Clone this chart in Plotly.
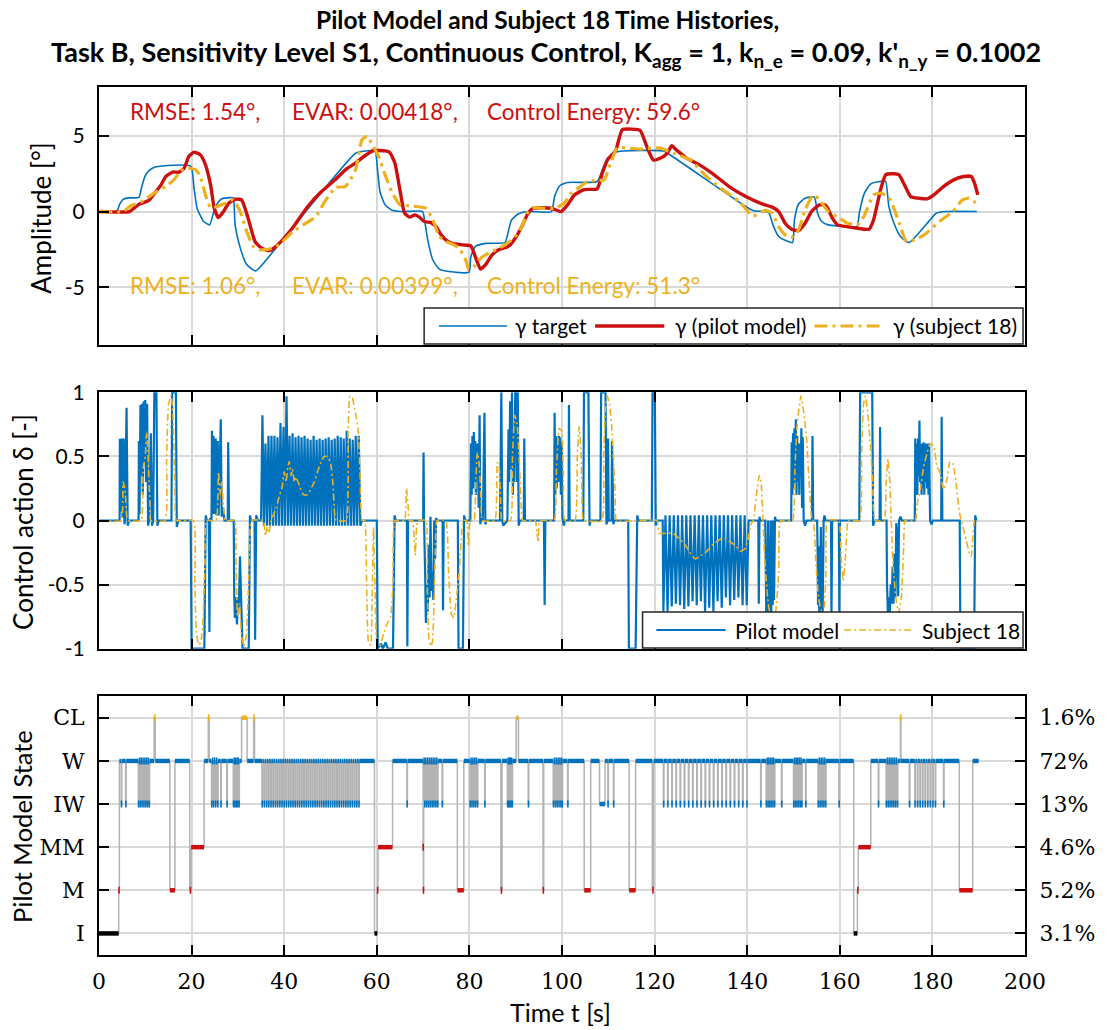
import plotly.graph_objects as go

# ---------------------------------------------------------------------------
# Flight-path angle gamma [deg] : (time s, value)
# ---------------------------------------------------------------------------
GAMMA_TARGET = [
    (0, 0), (3.8, 0), (4.5, 0.5), (5.2, 0.8), (6.3, 0.9), (8.6, 0.93), (9.2, 1.6), (9.9, 2.3),
    (10.8, 2.7), (12.3, 2.95), (19.8, 3.0), (20.5, 1.6), (21.2, 0.2), (22.6, -0.66), (23.9, -0.88),
    (24.8, 0.0), (25.6, 0.55), (26.5, 0.84), (28.3, 0.92), (29.0, 0.9), (29.4, -0.9), (30.5, -2.4),
    (31.9, -3.5), (33.8, -3.92), (35.0, -3.6), (55.4, 3.85), (57.5, 4.0), (59.6, 4.0), (60.2, 2.6),
    (60.7, 1.3), (61.8, 0.44), (63.2, 0.1), (65.3, 0.0), (69.9, 0.0), (70.3, -0.55), (71.0, -1.87),
    (72.1, -3.2), (73.5, -3.8), (75.6, -3.96), (79.9, -4.0), (80.3, -3.0), (81.3, -2.3), (83.5, -2.1),
    (87.7, -2.05), (88.1, -1.7), (89.1, -0.55), (90.6, -0.15), (92.7, 0.0), (97.7, 0.0), (98.4, 1.0),
    (99.5, 1.7), (101.2, 1.92), (107.6, 1.98), (108.7, 2.75), (109.8, 3.5), (111.2, 3.9), (113.3, 4.0),
    (121.9, 4.0), (123.3, 3.75), (139.7, 0.33), (141.4, 0.05), (143.9, 0.0), (144.7, -0.1),
    (145.7, -1.0), (146.8, -1.65), (148.2, -1.9), (149.8, -2.05), (150.2, -0.55), (151.1, 0.5),
    (152.5, 0.88), (154.5, 0.95), (155.2, -0.1), (156.1, -0.66), (157.5, -0.88), (159.6, -0.95),
    (163.7, -1.0), (164.2, -0.1), (165.3, 1.2), (166.7, 1.83), (169.2, 2.0), (169.9, 2.0),
    (170.6, 0.33), (171.7, -0.77), (173.1, -1.65), (174.9, -2.05), (177.4, -1.3), (179.5, -0.55),
    (180.9, -0.1), (183.0, 0.0), (189.6, 0.0),
]

GAMMA_PILOT = [
    (0, 0), (6.6, 0), (7.7, 0.26), (8.75, 0.5), (9.8, 0.6), (10.9, 0.77), (12.0, 1.2), (13.4, 1.76),
    (14.4, 2.3), (15.9, 2.6), (17.3, 2.6), (18.4, 2.86), (19.4, 3.63), (20.5, 3.92), (21.9, 3.74),
    (23.0, 3.08), (24.1, 1.76), (24.9, 0.22), (25.8, -0.4), (26.9, 0.0), (28.0, 0.55), (29.4, 0.81),
    (30.8, 0.77), (32.2, -0.44), (33.7, -1.98), (35.1, -2.42), (36.9, -2.58), (38.6, -2.2),
    (42.0, -1.0), (45.0, 0.3), (48.0, 1.3), (51.0, 2.1), (53.4, 2.8), (55.4, 3.2), (57.5, 3.7),
    (59.3, 4.03), (61.8, 4.0), (62.8, 3.9), (63.9, 3.2), (65.0, 1.43), (66.0, -0.1), (67.1, -0.37),
    (68.2, -0.22), (69.2, -0.37), (70.3, -0.66), (71.7, -0.73), (72.8, -1.0), (73.9, -1.54),
    (74.9, -1.87), (76.3, -2.1), (78.5, -2.2), (80.3, -2.27), (81.3, -3.0), (82.4, -3.8),
    (83.5, -3.5), (84.9, -2.86), (86.3, -2.53), (88.4, -2.3), (89.9, -1.76), (91.3, -1.0),
    (92.7, -0.1), (93.8, 0.22), (97.7, 0.22), (99.8, 0.0), (101.2, 0.44), (102.7, 1.1),
    (104.8, 1.45), (107.6, 1.5), (108.7, 2.53), (109.8, 3.4), (111.6, 4.03), (113.0, 5.4),
    (115.1, 5.44), (116.9, 5.35), (118.3, 4.3), (119.7, 3.41), (121.2, 3.52), (122.6, 3.8),
    (123.7, 4.34), (124.7, 4.07), (126.9, 3.52), (129.7, 3.08), (132.6, 2.49), (136.1, 1.65),
    (139.7, 0.99), (143.2, 0.5), (145.4, 0.29), (146.8, 0.0), (148.2, -0.77), (149.6, -1.17),
    (151.1, -1.26), (152.5, -0.77), (153.9, 0.0), (155.6, 0.44), (157.0, 0.4), (158.4, -0.44),
    (159.5, -0.88), (161.6, -1.0), (163.8, -1.1), (166.3, -1.17), (167.3, -0.55), (168.8, 1.43),
    (169.9, 2.42), (171.7, 2.49), (172.8, 2.42), (173.8, 1.87), (175.3, 0.99), (177.1, 0.88),
    (178.9, 0.84), (180.3, 1.1), (182.4, 1.65), (184.6, 2.09), (186.7, 2.31), (188.4, 2.31),
    (189.1, 1.87), (189.8, 1.1),
]

GAMMA_SUBJECT = [
    (0, 0), (5.2, 0), (7.0, 0.4), (9.1, 0.62), (10.9, 1.0), (12.7, 1.37), (14.4, 1.65), (16.2, 2.1),
    (17.7, 2.7), (19.1, 2.86), (20.9, 2.75), (21.9, 2.3), (23.0, 1.1), (24.1, 0.26), (25.5, 0.33),
    (27.3, 0.55), (29.0, 0.77), (30.5, 0.0), (31.9, -1.32), (33.3, -2.3), (34.7, -2.53),
    (36.9, -2.47), (39.0, -2.16), (41.9, -1.32), (44.7, -0.77), (46.8, -0.33), (49.0, 0.77),
    (51.1, 1.59), (53.2, 1.65), (55.4, 2.75), (56.8, 4.74), (57.9, 4.96), (58.9, 4.5), (60.4, 3.63),
    (61.8, 2.42), (63.2, 1.32), (65.0, 0.44), (66.4, 0.4), (68.5, 0.33), (70.6, 0.22), (72.1, -0.55),
    (73.5, -1.65), (74.9, -1.98), (76.3, -2.14), (77.8, -2.42), (79.2, -3.2), (79.9, -3.85),
    (81.0, -3.63), (82.0, -3.2), (83.5, -2.86), (84.9, -2.64), (86.3, -2.42), (87.7, -2.2),
    (89.9, -1.65), (91.3, -1.0), (92.7, 0.0), (94.1, 0.26), (96.3, 0.2), (98.4, 0.22), (100.5, 0.55),
    (101.9, 1.2), (104.0, 1.65), (105.5, 2.0), (107.6, 2.05), (109.1, 2.09), (110.5, 3.19),
    (111.9, 4.19), (114.1, 4.19), (116.9, 4.12), (121.2, 4.19), (124.1, 3.85), (127.7, 3.41),
    (131.2, 2.31), (134.8, 1.43), (138.3, 0.66), (141.2, -0.29), (143.9, 0.07), (145.4, -0.1),
    (146.8, -1.0), (148.2, -1.54), (149.6, -1.7), (151.1, -1.21), (152.5, 0.11), (154.3, 1.1),
    (155.6, 0.77), (157.5, 0.0), (159.6, -0.37), (161.7, -0.77), (163.8, -0.88), (165.2, -0.33),
    (167.3, 1.1), (169.1, 1.21), (170.9, 0.77), (172.6, -0.55), (174.4, -1.98), (176.5, -1.83),
    (178.7, -1.43), (181.5, -0.66), (184.4, 0.0), (186.5, 0.77), (187.9, 0.88), (189.0, 0.66),
    (189.8, 0.44),
]

# ---------------------------------------------------------------------------
# Control action delta [-] : (time s, value)
# ---------------------------------------------------------------------------
DELTA_PILOT = [
    (0.0, 0), (4.45, 0), (4.5, 0.63), (4.6, 0.63), (4.75, 0.07), (4.95, 0.64), (5.1, 0.02), (5.35, 0.64),
    (5.5, -0.03), (5.6, 0), (5.95, 0.88), (6.2, -0.04), (6.5, 0),
    (8.55, 0), (8.62, 0.62), (8.75, 0.05), (8.95, 0.9), (9.1, 0.35), (9.3, 0.91), (9.45, 0.2),
    (9.65, 0.93), (9.8, 0.45), (10.0, 0.94), (10.15, 0.3), (10.4, 0.91), (10.6, -0.04), (10.8, 0),
    (11.2, 0.68), (11.45, -0.04), (11.7, 0), (11.95, 1.0), (12.4, 1.0), (12.6, -0.04), (12.9, 0),
    (15.65, 0), (15.8, 1.0), (16.6, 1.0), (16.8, -0.05), (17.1, 0),
    (19.8, 0), (20.0, -1.0), (22.75, -1.0), (23.05, 0.04), (23.3, 0), (23.7, 0), (23.85, -0.87),
    (24.0, 0.02), (24.3, 0),
    (24.4, 0.7), (24.55, 0.05), (24.75, 0.66), (24.95, 0.05), (25.2, 0.64), (25.4, 0.04), (25.65, 0.62),
    (25.85, 0.04), (26.3, 0.79), (26.5, 0.03), (26.8, 0.1), (27.1, 0), (27.8, 0), (27.9, 0.61), (28.1, 0),
    (29.1, 0), (29.2, -0.58), (29.35, -0.76), (29.55, -0.6), (29.8, -0.81), (30.0, -0.6), (30.2, -0.68),
    (30.45, -0.28), (30.7, -0.74), (31.0, -1.0), (32.35, -1.0), (32.6, 0.04), (32.85, 0), (33.6, 0),
    (33.72, -0.93), (33.95, 0.04), (34.3, 0),
    (35.0, 0), (35.3, 0.82), (35.62, -0.04), (35.95, 0.6), (36.27, -0.04), (36.6, 0.66), (36.92, -0.04),
    (37.25, 0.66), (37.57, -0.04), (37.9, 0.66), (38.22, -0.04), (38.55, 0.65), (38.87, -0.04),
    (39.2, 0.76), (39.52, -0.04), (39.85, 0.73), (40.17, -0.04), (40.5, 0.97), (40.82, -0.04),
    (41.15, 0.66), (41.47, -0.04), (41.8, 0.68), (42.12, -0.04), (42.45, 0.65), (42.77, -0.04),
    (43.1, 0.66), (43.42, -0.04), (43.75, 0.65), (44.07, -0.04), (44.4, 0.66), (44.72, -0.04),
    (45.05, 0.64), (45.37, -0.04), (45.7, 0.63), (46.02, -0.04), (46.35, 0.66), (46.67, -0.04),
    (47.0, 0.63), (47.32, -0.04), (47.65, 0.64), (47.97, -0.04), (48.3, 0.63), (48.62, -0.04),
    (48.95, 0.64), (49.27, -0.04), (49.6, 0.65), (49.92, -0.04), (50.25, 0.63), (50.57, -0.04),
    (50.9, 0.64), (51.22, -0.04), (51.55, 0.66), (51.87, -0.04), (52.2, 0.65), (52.52, -0.04),
    (52.85, 0.64), (53.17, -0.04), (53.5, 0.7), (53.82, -0.04), (54.15, 0.64), (54.47, -0.04),
    (54.8, 0.63), (55.12, -0.04), (55.45, 0.66), (55.77, -0.04), (56.1, 0.66), (56.45, -0.04), (56.8, 0),
    (60.0, 0), (60.2, -1.0), (60.9, -0.96), (61.3, -1.0), (61.9, -0.95), (62.4, -1.0), (63.5, -1.0),
    (63.85, 0.04), (64.1, 0),
    (66.5, 0), (66.6, -0.98), (66.75, 0),
    (70.0, 0), (70.1, 0.53), (70.2, 0), (70.45, -0.43), (70.6, -0.8), (70.8, -0.5), (71.0, -0.71),
    (71.2, -0.19), (71.4, -0.6), (71.6, 0.03), (71.8, -0.55), (72.0, -0.4), (72.2, -0.62), (72.4, 0.0),
    (72.6, -0.3), (72.8, 0.02), (73.0, 0), (74.2, 0), (74.3, -0.7), (74.45, 0),
    (77.5, 0), (77.65, -1.0), (78.6, -1.0), (78.85, 0.04), (79.1, 0),
    (80.2, 0), (80.35, 0.6), (80.5, 0.2), (80.65, 0.66), (80.8, 0.25), (80.95, 0.69), (81.1, 0.3),
    (81.25, 0.62), (81.4, 0.2), (81.55, 0.6), (81.7, 0.35), (81.85, 0.6), (82.0, 0.1), (82.2, 0.82),
    (82.35, -0.03), (82.6, 0.04), (82.9, 0), (83.25, 0.84), (83.45, -0.03), (83.7, 0),
    (86.6, 0), (86.9, 1.0), (87.1, 0.0), (87.3, -0.04), (88.2, 0), (88.45, 0.71), (88.6, 0.3),
    (88.8, 0.93), (88.95, 0.4), (89.2, 1.0), (89.4, 0.2), (89.55, 0.71), (89.7, 0.3), (89.9, 1.0),
    (90.1, 1.0), (90.3, 0.3), (90.45, 1.0), (90.65, -0.04), (90.9, 0), (91.75, 0), (91.85, 0.64), (92.0, 0),
    (96.1, 0), (96.25, -0.66), (96.4, 0),
    (98.3, 0), (98.4, 0.84), (98.55, 0.2), (98.7, 0.66), (98.85, 0.25), (99.0, 0.62), (99.15, 0.3),
    (99.3, 0.66), (99.45, 0.3), (99.6, 0.65), (99.75, 0.2), (99.9, 0.61), (100.1, 0.02), (100.4, -0.04),
    (100.6, 0), (101.4, 0), (101.5, 0.9), (101.65, 0),
    (104.6, 0), (104.75, 1.0), (105.7, 1.0), (105.95, -0.04), (106.2, 0),
    (108.3, 0), (108.45, 1.0), (109.4, 1.0), (109.6, -0.03), (109.85, 0), (109.95, 0.64), (110.1, 0),
    (110.7, 0), (110.8, 0.62), (110.95, 0), (111.1, -0.03), (111.3, 0),
    (114.3, 0), (114.45, -1.0), (115.9, -1.0), (116.25, 0.04), (116.5, 0),
    (119.4, 0), (119.55, 1.0), (120.05, 1.0), (120.25, -0.04), (120.5, 0),
    (121.75, 0), (121.9, -0.71), (122.35, 0.04), (122.8, -0.71), (123.25, 0.04), (123.7, -0.67),
    (124.15, 0.04), (124.6, -0.65), (125.05, 0.04), (125.5, -0.66), (125.95, 0.04), (126.4, -0.69),
    (126.85, 0.04), (127.3, -0.67), (127.75, 0.04), (128.2, -0.63), (128.65, 0.04), (129.1, -0.66),
    (129.55, 0.04), (130.0, -0.63), (130.45, 0.04), (130.9, -0.71), (131.35, 0.04), (131.8, -0.68),
    (132.25, 0.04), (132.7, -0.71), (133.15, 0.04), (133.6, -0.63), (134.05, 0.04), (134.5, -0.68),
    (134.95, 0.04), (135.4, -0.6), (135.85, 0.04), (136.3, -0.66), (136.75, 0.04), (137.2, -0.62),
    (137.65, 0.04), (138.1, -0.6), (138.55, 0.04), (139.0, -0.66), (139.45, 0.04), (139.9, -0.66),
    (140.3, 0.0),
    (142.4, 0), (142.5, -0.65), (142.65, 0.03), (142.8, 0),
    (143.9, 0), (144.05, -0.6), (144.2, -1.0), (144.35, -0.7), (144.5, 0), (144.6, -0.72),
    (144.75, -0.97), (144.9, -0.65), (145.05, 0), (145.2, -0.73), (145.35, 0), (145.5, -0.66),
    (145.65, 0.0), (145.8, -0.62), (146.0, 0.03), (146.2, 0),
    (149.5, 0), (149.6, 0.61), (149.75, 0.2), (149.9, 0.68), (150.05, 0.25), (150.2, 0.72), (150.35, 0.3),
    (150.5, 0.79), (150.65, 0.2), (150.8, 0.66), (150.95, 0.3), (151.1, 0.6), (151.25, 0.2), (151.4, 0.6),
    (151.55, 0.35), (151.7, 0.72), (151.85, 0.1), (152.0, 0.65), (152.2, 0.0), (152.5, -0.04), (152.8, 0),
    (154.0, 0), (154.1, 0.66), (154.25, 0),
    (155.1, 0), (155.2, -0.22), (155.3, -0.66), (155.45, -0.2), (155.6, -0.89), (155.75, -0.6),
    (155.9, -0.05), (156.1, -0.92), (156.3, -0.7), (156.5, 0), (156.7, 0.04), (156.9, 0),
    (158.1, 0), (158.2, -0.75), (158.35, 0), (159.8, 0), (159.9, -0.75), (160.05, 0),
    (164.2, 0), (164.4, 1.0), (167.0, 1.0), (167.2, -0.04), (167.5, 0), (168.6, 0), (168.7, 0.73), (168.85, 0),
    (170.1, 0), (170.2, -0.5), (170.4, -0.75), (170.6, -0.6), (170.8, -0.72), (171.0, -0.5), (171.2, -0.65),
    (171.4, -0.36), (171.6, -0.65), (171.8, -0.26), (172.0, -0.6), (172.2, -0.02), (172.4, -0.1),
    (172.6, -0.59), (172.8, 0.0), (173.1, 0.03), (173.4, 0),
    (176.2, 0), (176.3, 0.64), (176.45, 0.2), (176.6, 0.6), (176.75, 0.2), (176.9, 0.64), (177.05, 0.35),
    (177.2, 0.78), (177.35, 0.3), (177.5, 0.6), (177.65, 0.2), (177.8, 0.6), (177.95, 0.25), (178.1, 0.61),
    (178.25, 0.2), (178.4, 0.6), (178.55, 0.3), (178.7, 0.6), (178.85, 0.25), (179.0, 0.6), (179.15, 0.2),
    (179.3, 0.6), (179.5, 0.0), (179.8, -0.03), (180.1, 0), (181.9, 0), (182.0, 0.81), (182.15, 0),
    (185.9, 0), (186.05, -1.0), (189.0, -1.0), (189.25, 0.04), (189.5, 0),
]

DELTA_SUBJECT = [
    (0, 0), (4.8, 0), (5.2, 0.3), (5.6, 0.25), (6.0, 0.03), (6.3, 0),
    (9.1, 0), (9.5, 0.4), (10.0, 0.5), (10.3, 0.69), (10.5, 0.6), (10.8, 0.3), (11.0, 0.15), (11.2, 0),
    (14.3, 0), (14.6, 0.5), (15.0, 0.9), (15.6, 0.98), (16.0, 0.8), (16.4, 0.2), (16.7, 0),
    (20.4, 0), (20.7, -0.5), (21.0, -0.85), (21.5, -0.97), (22.0, -0.95), (22.5, -0.75), (22.9, -0.3), (23.2, 0),
    (25.3, 0), (25.8, 0.38), (26.2, 0.2), (26.5, 0.3), (26.9, 0.1), (27.3, 0),
    (29.3, 0), (29.6, -0.3), (29.9, -0.75), (30.3, -0.65), (30.8, -0.9), (31.3, -0.98), (31.8, -0.9),
    (32.2, -0.6), (32.6, -0.1), (32.9, 0),
    (35.5, 0), (35.9, -0.12), (36.3, -0.05), (36.7, -0.1), (37.2, 0),
    (38.3, 0.1), (39.0, 0.2), (39.5, 0.25), (40.0, 0.38), (40.4, 0.3), (40.8, 0.42), (41.1, 0.46),
    (41.5, 0.35), (41.8, 0.4), (42.2, 0.3), (42.5, 0.34), (43.0, 0.3), (43.6, 0.24), (44.2, 0.2),
    (45.0, 0.2), (45.8, 0.25), (46.5, 0.3), (47.2, 0.38), (47.9, 0.45), (48.6, 0.5), (49.3, 0.5),
    (50.0, 0.45), (50.5, 0.3), (50.9, 0.05), (51.2, 0),
    (53.4, 0), (53.8, 0.7), (54.2, 0.97), (54.7, 0.96), (55.2, 0.87), (55.6, 0.8), (56.0, 0.7),
    (56.4, 0.35), (56.8, 0),
    (57.4, 0), (57.8, -0.5), (58.2, -0.95), (58.7, -0.97), (59.0, -0.6), (59.3, -0.05), (59.6, -0.5),
    (60.0, -0.95), (60.6, -0.98), (61.5, -0.88), (62.3, -0.8), (63.0, -0.75), (63.5, -0.5), (63.9, 0),
    (66.0, 0), (66.4, 0.25), (66.8, 0.1), (67.0, 0),
    (67.7, 0), (68.0, -0.1), (68.3, -0.27), (68.6, -0.05), (68.9, 0),
    (70.6, 0), (70.9, -0.5), (71.2, -0.9), (71.6, -0.98), (72.0, -0.95), (72.4, -0.6), (72.8, -0.05), (73.0, 0),
    (74.9, 0), (75.5, -0.4), (76.1, -0.73), (76.6, -0.76), (77.2, -0.6), (77.8, -0.4), (78.3, -0.1), (78.7, 0),
    (79.4, 0), (79.8, -0.2), (80.2, 0),
    (81.0, 0), (81.4, 0.3), (81.7, 0.53), (82.1, 0.45), (82.5, 0.17), (82.8, 0),
    (85.5, 0), (86.0, 0.45), (86.4, 0.42), (86.8, 0.1), (87.0, 0),
    (88.9, 0), (89.3, 0.5), (89.8, 0.82), (90.3, 0.75), (90.8, 0.45), (91.2, 0.1), (91.5, 0),
    (94.2, 0), (94.6, -0.1), (94.9, -0.17), (95.2, 0),
    (98.3, 0), (98.8, 0.4), (99.4, 0.72), (99.9, 0.7), (100.3, 0.35), (100.6, 0),
    (102.8, 0), (103.3, 0.5), (103.7, 0.73), (104.1, 0.55), (104.4, 0.05), (104.6, 0),
    (108.6, 0), (109.0, 0.5), (109.4, 0.9), (109.8, 0.97), (110.3, 0.9), (110.7, 0.75), (111.1, 0.5),
    (111.5, 0.2), (111.8, 0),
    (120.5, 0), (121.0, -0.1), (122.5, -0.1), (124.0, -0.1), (125.5, -0.15), (126.8, -0.2),
    (127.8, -0.26), (128.8, -0.3), (129.7, -0.28), (131.0, -0.25), (132.5, -0.19), (134.0, -0.15),
    (135.4, -0.14), (136.5, -0.17), (137.6, -0.2), (138.6, -0.24), (139.5, -0.22), (140.2, -0.14),
    (140.8, -0.03), (141.3, 0),
    (142.0, 0.2), (142.6, 0.35), (143.0, 0.3), (143.4, 0.0), (143.8, -0.3), (144.4, -0.6), (145.0, -0.75),
    (145.6, -0.8), (146.2, -0.7), (146.8, -0.4), (147.2, 0),
    (149.8, 0), (150.3, 0.4), (150.8, 0.75), (151.6, 0.97), (152.2, 0.85), (152.8, 0.65), (153.4, 0.28), (154.0, 0),
    (154.3, 0), (154.8, -0.3), (155.4, -0.6), (156.0, -0.7), (156.6, -0.68), (157.0, -0.4), (157.3, 0),
    (159.8, 0), (160.3, -0.3), (160.7, -0.47), (161.1, -0.35), (161.5, -0.1), (161.8, 0),
    (164.3, 0), (164.7, 0.5), (165.1, 0.9), (165.5, 0.97), (166.0, 0.85), (166.6, 0.6), (167.1, 0.3), (167.6, 0),
    (169.6, 0), (170.0, 0.3), (170.4, 0.48), (170.8, 0.3), (171.1, 0),
    (171.6, -0.4), (172.1, -0.6), (172.7, -0.72), (173.3, -0.6), (173.8, -0.2), (174.1, 0),
    (176.3, 0), (176.8, 0.15), (177.4, 0.24), (178.1, 0.42), (178.8, 0.52), (179.5, 0.6), (180.3, 0.58),
    (181.0, 0.42), (181.7, 0.37), (182.4, 0.24), (183.1, 0.31), (183.8, 0.46), (184.5, 0.44),
    (185.2, 0.26), (185.9, 0.05), (186.6, -0.05), (187.3, -0.15), (188.0, -0.26), (188.4, -0.28),
    (188.7, -0.15), (189.1, 0), (189.5, 0),
]

# ---------------------------------------------------------------------------
# Pilot model state machine
# ---------------------------------------------------------------------------
STATE_NAMES = ["I", "M", "MM", "IW", "W", "CL"]
STATE_SHARE = ["3.1%", "5.2%", "4.6%", "13%", "72%", "1.6%"]

# (switch time s, new state)
STATE_CHANGES = [
    (0.0, "I"), (4.25, "M"), (4.4, "W"), (11.9, "CL"), (12.15, "W"), (15.3, "M"), (16.4, "W"),
    (19.6, "M"), (19.9, "MM"), (22.7, "W"), (23.6, "CL"), (23.8, "W"), (30.8, "CL"), (32.0, "W"),
    (33.4, "CL"), (33.6, "W"), (59.5, "I"), (60.1, "M"), (60.25, "MM"), (63.4, "W"),
    (70.0, "MM"), (70.05, "M"), (70.12, "W"), (77.4, "M"), (78.8, "W"), (86.8, "M"), (87.05, "W"),
    (90.1, "CL"), (90.6, "W"), (95.9, "M"), (96.05, "W"), (104.8, "M"), (106.2, "W"),
    (108.1, "IW"), (109.3, "W"), (114.5, "M"), (115.9, "W"), (119.5, "M"), (119.8, "W"),
    (163.0, "I"), (163.8, "M"), (164.0, "MM"), (166.7, "W"), (173.1, "CL"), (173.2, "W"),
    (185.8, "M"), (188.7, "W"),
]
STATE_END = 190.0

# short drops from W to IW (start time s)
IW_DIPS = [
    4.8, 5.75, 8.5, 8.85, 9.25, 9.65, 10.05, 10.45, 10.8,
    24.3, 24.7, 25.15, 25.6, 26.3, 27.6, 29.0, 29.3, 29.6, 29.9, 30.2,
    35.2, 35.67, 36.15, 36.62, 37.1, 37.57, 38.05, 38.52, 39.0, 39.47, 39.95, 40.42, 40.9, 41.37,
    41.85, 42.32, 42.8, 43.27, 43.75, 44.22, 44.7, 45.17, 45.65, 46.12, 46.6, 47.07, 47.55, 48.02,
    48.5, 48.97, 49.45, 49.92, 50.4, 50.87, 51.35, 51.82, 52.3, 52.77, 53.25, 53.72, 54.2, 54.67,
    55.15, 55.62, 56.1,
    66.5, 70.3, 70.7, 71.1, 71.5, 71.9, 72.3, 72.7, 73.1, 74.1,
    80.1, 80.5, 80.9, 81.3, 81.7, 83.3, 88.2, 88.45, 88.7, 88.95, 89.2, 92.7,
    98.1, 98.5, 98.9, 99.3, 99.7, 100.0, 101.2, 109.9, 111.1,
    121.9, 122.8, 123.7, 124.6, 125.5, 126.4, 127.3, 128.2, 129.1, 130.0, 130.9, 131.8, 132.7,
    133.6, 134.5, 135.4, 136.3, 137.2, 138.1, 139.0, 139.9,
    142.9, 144.1, 144.45, 144.8, 145.15, 145.5, 145.85, 147.4, 150.0, 150.35, 150.7, 151.05,
    151.4, 151.75, 152.6, 155.3, 155.7, 156.1, 156.5, 156.9, 159.8,
    168.3, 170.0, 170.4, 170.8, 171.2, 171.6, 172.0, 172.4,
    175.0, 176.2, 176.75, 177.3, 177.85, 178.4, 178.95, 179.5, 180.05, 180.6, 182.4,
]
IW_DWELL = 0.12

# ---------------------------------------------------------------------------
# Style
# ---------------------------------------------------------------------------
BLUE, RED, ORANGE, BLACK = "#0072BD", "#CC1010", "#EDB120", "#000000"
GREY, GRID = "#B3B3B3", "#D9D9D9"
SANS = "Lato, 'Liberation Sans', Arial, sans-serif"
SERIF = "'DejaVu Serif', 'Liberation Serif', serif"
STATE_COLOR = {"I": BLACK, "M": RED, "MM": RED, "IW": BLUE, "W": BLUE, "CL": ORANGE}

FIG_W, FIG_H = 1107, 1030
PL, PR, PT, PB = 99, 1036, 87, 955   # plot-area edges in pixels


def fx(px):
    return (px - PL) / (PR - PL)


def fy(py):
    return (PB - py) / (PB - PT)


def split(pairs):
    return [p[0] for p in pairs], [p[1] for p in pairs]


fig = go.Figure()

# --- panel 1: gamma ---
for pairs, color, width, dash in [
    (GAMMA_TARGET, BLUE, 1.6, None),
    (GAMMA_PILOT, RED, 3.4, None),
    (GAMMA_SUBJECT, ORANGE, 3.2, "13px,5px,3px,5px"),
]:
    t, v = split(pairs)
    fig.add_trace(go.Scatter(x=t, y=v, mode="lines", xaxis="x", yaxis="y",
                             line=dict(color=color, width=width, dash=dash,
                                       shape="spline", smoothing=0.5)))

# --- panel 2: control action ---
t, v = split(DELTA_PILOT)
fig.add_trace(go.Scatter(x=t, y=v, mode="lines", xaxis="x2", yaxis="y2",
                         line=dict(color=BLUE, width=2.2)))
t, v = split(DELTA_SUBJECT)
fig.add_trace(go.Scatter(x=t, y=v, mode="lines", xaxis="x2", yaxis="y2",
                         line=dict(color=ORANGE, width=1.6, dash="7px,3px,2px,3px",
                                   shape="spline", smoothing=0.4)))

# --- panel 3: state sequence ---
level = {name: i + 1 for i, name in enumerate(STATE_NAMES)}
events = list(STATE_CHANGES)
events += [(t0, "IW") for t0 in IW_DIPS]
events += [(t0 + IW_DWELL, "W") for t0 in IW_DIPS]
events.sort(key=lambda e: e[0])

step_x = [e[0] for e in events] + [STATE_END]
step_y = [level[e[1]] for e in events] + [level[events[-1][1]]]
fig.add_trace(go.Scatter(x=step_x, y=step_y, mode="lines", xaxis="x3", yaxis="y3",
                         line=dict(color=GREY, width=1.5, shape="hv")))

seg = {c: ([], []) for c in set(STATE_COLOR.values())}
tick = {c: ([], []) for c in set(STATE_COLOR.values())}
for i, (t0, s) in enumerate(events):
    t1 = events[i + 1][0] if i + 1 < len(events) else STATE_END
    c = STATE_COLOR[s]
    if t1 - t0 >= 0.35:
        seg[c][0].extend([t0, t1, None])
        seg[c][1].extend([level[s], level[s], None])
    else:
        tick[c][0].append(0.5 * (t0 + t1))
        tick[c][1].append(level[s])
for c in seg:
    if seg[c][0]:
        fig.add_trace(go.Scatter(x=seg[c][0], y=seg[c][1], mode="lines", xaxis="x3", yaxis="y3",
                                 line=dict(color=c, width=4.5)))
    if tick[c][0]:
        fig.add_trace(go.Scatter(x=tick[c][0], y=tick[c][1], mode="markers", xaxis="x3", yaxis="y3",
                                 marker=dict(symbol="line-ns", size=5,
                                             line=dict(color=c, width=1.6))))

# anchor trace for the right-hand share axis
fig.add_trace(go.Scatter(x=[None], y=[None], xaxis="x3", yaxis="y4", mode="lines",
                         hoverinfo="skip"))

# ---------------------------------------------------------------------------
# Axes
# ---------------------------------------------------------------------------
axis_common = dict(showline=True, linecolor="black", linewidth=2, mirror="ticks",
                   ticks="inside", ticklen=10, tickwidth=2, tickcolor="black",
                   showgrid=True, gridcolor=GRID, gridwidth=1.5, zeroline=False)
xgrid = list(range(0, 201, 20))

layout_axes = {}
for name, anchor, labels in [("xaxis", "y", False), ("xaxis2", "y2", False), ("xaxis3", "y3", True)]:
    layout_axes[name] = dict(axis_common, anchor=anchor, range=[0, 200], tickvals=xgrid,
                             showticklabels=labels, domain=[0, 1],
                             tickfont=dict(family=SERIF, size=22, color="black"),
                             ticklabelstandoff=6)

layout_axes["yaxis"] = dict(axis_common, anchor="x", domain=[fy(345), 1.0], range=[-8.81, 8.22],
                            tickvals=[-5, 0, 5], ticktext=["-5", "0", "5"],
                            tickfont=dict(family=SANS, size=21, color="black"), ticklabelstandoff=8)
layout_axes["yaxis2"] = dict(axis_common, anchor="x2", domain=[fy(648.7), fy(392.3)], range=[-1, 1],
                             tickvals=[-1, -0.5, 0, 0.5, 1], ticktext=["-1", "-0.5", "0", "0.5", "1"],
                             tickfont=dict(family=SANS, size=21, color="black"), ticklabelstandoff=8)
layout_axes["yaxis3"] = dict(axis_common, anchor="x3", domain=[0, fy(696.2)], range=[0.5, 6.5],
                             tickvals=[1, 2, 3, 4, 5, 6], ticktext=STATE_NAMES,
                             tickfont=dict(family=SERIF, size=22, color="black"), ticklabelstandoff=8)
layout_axes["yaxis4"] = dict(overlaying="y3", anchor="x3", side="right", range=[0.5, 6.5],
                             tickvals=[1, 2, 3, 4, 5, 6], ticktext=STATE_SHARE,
                             showline=True, linecolor="black", linewidth=2, ticks="inside",
                             ticklen=10, tickwidth=2, tickcolor="black", showgrid=False,
                             zeroline=False, tickfont=dict(family=SERIF, size=22, color="black"),
                             ticklabelstandoff=8)

# ---------------------------------------------------------------------------
# Text, legends
# ---------------------------------------------------------------------------
def text(px, py, s, size, color="black", anchor="left", family=SANS, angle=0):
    return dict(x=fx(px), y=fy(py), xref="paper", yref="paper", text=s, showarrow=False,
                xanchor=anchor, yanchor="middle", textangle=angle,
                font=dict(family=family, size=size, color=color))


annotations = [
    text(553, 20, "<b>Pilot Model and Subject 18 Time Histories,</b>", 24.5, anchor="center"),
    text(551, 53, "<b>Task B, Sensitivity Level S1, Continuous Control, K<sub>agg</sub> = 1, "
                  "k<sub>n_e</sub> = 0.09, k'<sub>n_y</sub> = 0.1002</b>", 27, anchor="center"),
    text(128, 112, "RMSE: 1.54°,", 22.5, RED),
    text(292, 112, "EVAR: 0.00418°,", 22.5, RED),
    text(490, 112, "Control Energy: 59.6°", 22.5, RED),
    text(128, 285, "RMSE: 1.06°,", 22.5, ORANGE),
    text(292, 285, "EVAR: 0.00399°,", 22.5, ORANGE),
    text(490, 285, "Control Energy: 51.3°", 22.5, ORANGE),
    text(40, 218, "Amplitude [°]", 26, anchor="center", angle=-90),
    text(22, 522, "Control action δ [-]", 26, anchor="center", angle=-90),
    text(21, 826, "Pilot Model State", 25.5, anchor="center", angle=-90),
    text(566, 1012, "Time t [s]", 25, anchor="center"),
    # legend labels
    text(518, 326, "γ target", 21),
    text(680, 326, "γ (pilot model)", 21),
    text(900, 326, "γ (subject 18)", 21),
    text(741, 630, "Pilot model", 21),
    text(930, 630, "Subject 18", 21),
]


def box(x0, y0, x1, y1):
    return dict(type="rect", xref="paper", yref="paper", x0=fx(x0), x1=fx(x1), y0=fy(y1), y1=fy(y0),
                fillcolor="white", line=dict(color="#262626", width=1.5), layer="above")


def sample(x0, x1, py, color, width, dash=None):
    return dict(type="line", xref="paper", yref="paper", x0=fx(x0), x1=fx(x1), y0=fy(py), y1=fy(py),
                line=dict(color=color, width=width, dash=dash), layer="above")


shapes = [
    box(428, 308, 1034, 344),
    sample(443, 512, 326, BLUE, 1.6),
    sample(601, 671, 326, RED, 3.4),
    sample(823, 893, 326, ORANGE, 3.2, "13px,5px,3px,5px"),
    box(649, 612, 1034, 648),
    sample(663, 733, 630, BLUE, 2.2),
    sample(853, 923, 630, ORANGE, 1.6, "7px,3px,2px,3px"),
]

fig.update_layout(
    width=FIG_W, height=FIG_H,
    margin=dict(l=PL, r=FIG_W - PR, t=PT, b=FIG_H - PB, pad=0),
    paper_bgcolor="white", plot_bgcolor="white",
    showlegend=False,
    annotations=annotations, shapes=shapes,
    **layout_axes,
)

fig.write_html("out.html")
